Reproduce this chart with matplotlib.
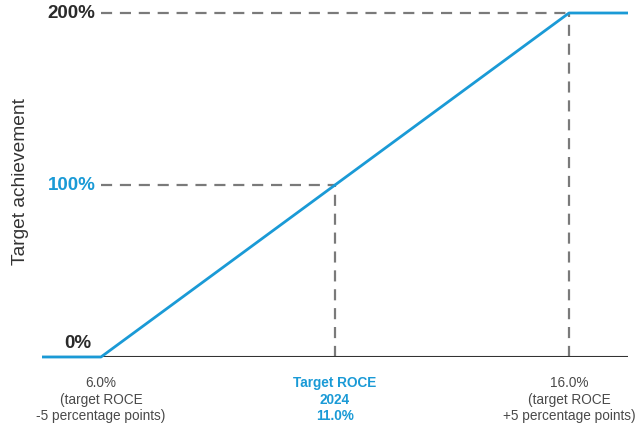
import matplotlib.pyplot as plt

plt.rcParams["font.family"] = ["Liberation Sans", "DejaVu Sans"]

BLUE = "#1a9ad6"
DARK = "#2b2b2b"
GREY = "#7a7a7a"

# payout curve: ROCE (%) -> target achievement (%)
roce = [4.74, 6.0, 16.0, 17.26]
achievement = [0, 0, 200, 200]

# reference points
ref_roce = [11.0, 16.0]
ref_ach = [100, 200]

tick_pos = [6.0, 11.0, 16.0]
tick_labels = ["6.0%\n(target ROCE\n-5 percentage points)",
               "Target ROCE\n2024\n11.0%",
               "16.0%\n(target ROCE\n+5 percentage points)"]
y_levels = [0, 100, 200]
y_labels = ["0%", "100%", "200%"]
y_colors = [DARK, BLUE, DARK]

fig = plt.figure(figsize=(6.36, 4.28), dpi=100)
ax = fig.add_axes([42 / 636, 1 - 357 / 428, 586 / 636, 344 / 428])

ax.set_xlim(roce[0], roce[-1])
ax.set_ylim(0, 200)

# dashed guides
for x, y in zip(ref_roce, ref_ach):
    ax.plot([tick_pos[0], x], [y, y], color=GREY, lw=1.6, ls=(0, (5, 3.5)), clip_on=False)
    ax.plot([x, x], [0, y], color=GREY, lw=1.6, ls=(0, (5, 3.5)), clip_on=False)

ax.axhline(0, color="#333333", lw=1.5, zorder=2)
ax.plot(roce, achievement, color=BLUE, lw=2, zorder=3, clip_on=False, solid_capstyle="butt")

for sp in ax.spines.values():
    sp.set_visible(False)

ax.set_yticks([])
ax.set_xticks(tick_pos)
ax.set_xticklabels(tick_labels, fontsize=9.8, linespacing=1.22)
ax.tick_params(axis="x", length=0, pad=14)
for i, lbl in enumerate(ax.get_xticklabels()):
    if i == 1:
        lbl.set_color(BLUE)
        lbl.set_fontweight("bold")
    else:
        lbl.set_color("#4a4a4a")

for y, txt, c in zip(y_levels, y_labels, y_colors):
    if y == 0:
        ax.annotate(txt, xy=(tick_pos[0], y), xytext=(-7, 10), textcoords="offset points",
                    ha="right", va="center", fontsize=13.5, fontweight="bold", color=c)
    else:
        ax.annotate(txt, xy=(tick_pos[0], y), xytext=(-4, 0), textcoords="offset points",
                    ha="right", va="center", fontsize=13.5, fontweight="bold", color=c)

ax.set_ylabel("Target achievement", fontsize=13.8, color="#333333")
ax.yaxis.set_label_coords(-0.022, 0.51)

fig.savefig("out.png", dpi=100)
